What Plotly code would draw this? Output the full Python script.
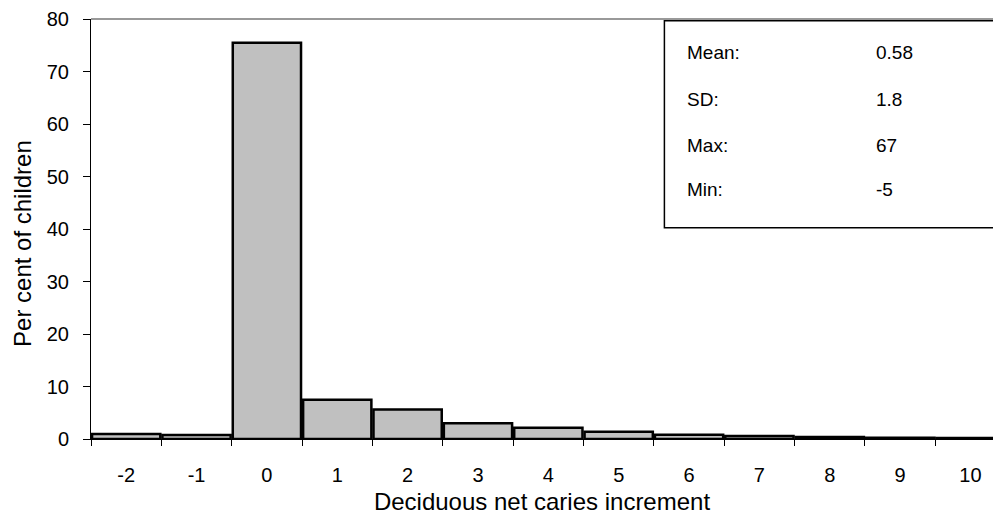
import plotly.graph_objects as go

categories = ["-2", "-1", "0", "1", "2", "3", "4", "5", "6", "7", "8", "9", "10"]
percent = [0.95, 0.75, 75.5, 7.5, 5.6, 3.0, 2.15, 1.4, 0.8, 0.55, 0.4, 0.25, 0.2]
stat_labels = ["Mean:", "SD:", "Max:", "Min:"]
stat_values = ["0.58", "1.8", "67", "-5"]

FONT = "Liberation Sans, Arial, sans-serif"

fig = go.Figure()
fig.add_trace(go.Bar(
    x=categories, y=percent,
    marker=dict(color="#c0c0c0", line=dict(color="black", width=2.5)),
))

fig.update_layout(
    width=993, height=519,
    margin=dict(l=91, r=0, t=19, b=80),
    paper_bgcolor="white", plot_bgcolor="white",
    bargap=0.03, showlegend=False,
    font=dict(family=FONT, color="black"),
    xaxis=dict(
        type="category", range=[-0.5, 12.32],
        showline=True, linecolor="black", linewidth=1,
        ticks="outside", tickson="boundaries", ticklen=6, tickcolor="black",
        tickfont=dict(size=20), ticklabelstandoff=18,
        showgrid=False, zeroline=False,
        title=dict(text="Deciduous net caries increment", font=dict(size=24), standoff=8),
    ),
    yaxis=dict(
        range=[0, 80], dtick=10,
        showline=True, linecolor="black", linewidth=1,
        ticks="outside", ticklen=7, tickcolor="black",
        tickfont=dict(size=20), ticklabelstandoff=10,
        showgrid=False, zeroline=False,
    ),
)

# y-axis title (placed as in reference, slightly below plot centre)
fig.add_annotation(xref="paper", yref="paper", x=-0.0754, y=0.4667, text="Per cent of children",
                   textangle=-90, showarrow=False, xanchor="center", yanchor="middle",
                   font=dict(size=24, family=FONT, color="black"))

# grey top border
fig.add_shape(type="line", xref="paper", yref="paper", x0=0, x1=1, y0=1, y1=1,
              line=dict(color="#999999", width=2))

# statistics box
fig.add_shape(type="rect", xref="paper", yref="paper", x0=0.6357, x1=1.05, y0=0.503, y1=0.996,
              line=dict(color="black", width=1.5), fillcolor="white", layer="above")

row_y = [0.921, 0.8095, 0.700, 0.593]
for lab, val, yy in zip(stat_labels, stat_values, row_y):
    fig.add_annotation(xref="paper", yref="paper", x=0.6587, y=yy, text=lab, showarrow=False,
                       xanchor="left", yanchor="middle", font=dict(size=19, family=FONT, color="black"))
    fig.add_annotation(xref="paper", yref="paper", x=0.8676, y=yy, text=val, showarrow=False,
                       xanchor="left", yanchor="middle", font=dict(size=19, family=FONT, color="black"))

fig.write_html("out.html")
